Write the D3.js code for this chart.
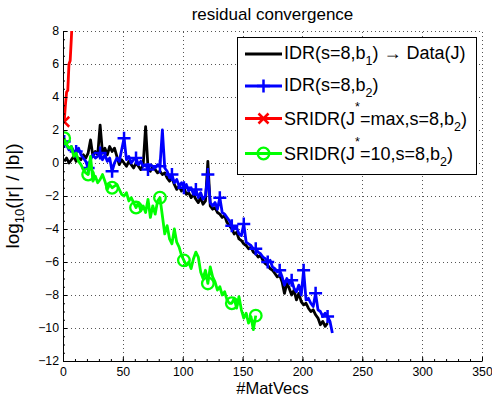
<!DOCTYPE html>
<html><head><meta charset="utf-8">
<script src="https://cdn.jsdelivr.net/npm/d3@7/dist/d3.min.js"></script>
<style>body{margin:0;background:#fff}svg{display:block;font-family:"Liberation Sans",Arial,Helvetica,sans-serif}</style>
</head><body>
<svg id="chart" width="492" height="397"></svg>
<script>
// ---- data ----
const xTickValues = [0, 50, 100, 150, 200, 250, 300, 350];
const yTickValues = [-12, -10, -8, -6, -4, -2, 0, 2, 4, 6, 8];

const seriesNames = ["IDR(s=8,b1) → Data(J)", "IDR(s=8,b2)", "SRIDR(J*=max,s=8,b2)", "SRIDR(J*=10,s=8,b2)"];

const blackX = [1,3,5,7,9,11,13,15,17,19,21,23,25,27,29,31,33,35,37,39,41,43,45,47,49,51,53,55,57,59,61,63,65,67,69,71,73,75,77,79,81,83,85,87,89,91,93,95,97,99,101,103,105,107,109,111,113,115,117,119,121,123,125,127,129,131,133,135,137,139,141,143,145,147,149,151,153,155,157,159,161,163,165,167,169,171,173,175,177,179,181,183,185,187,189,191,193,195,197,199,201,203,205,207,209,211,213,215,217,219,221];
const blackY = [0.1,0.3,0.0,0.2,0.4,0.1,0.3,0.2,0.5,0.3,
  0.6,1.4,0.4,0.7,0.5,2.3,0.6,0.9,0.5,1.0,
  0.7,0.9,0.4,-0.1,0.2,0.0,-0.2,0.1,-0.1,-0.3,
  0.0,-0.2,-0.4,-0.1,2.2,-0.3,-0.5,-0.2,-0.4,-0.6,
  -0.5,-0.7,-0.6,-0.9,-1.1,-0.9,-1.3,-1.6,-1.4,-1.7,
  -1.5,-1.9,-1.8,-2.1,-1.9,-2.2,-2.4,-2.1,-2.5,-2.3,
  0.1,-2.6,-2.8,-2.7,-3.0,-3.1,-3.3,-3.2,-3.6,-3.8,
  -4.0,-4.3,-4.2,-4.6,-4.7,-4.9,-5.0,-5.2,-5.1,-5.4,
  -5.5,-5.7,-5.6,-5.9,-6.1,-6.2,-6.4,-6.5,-6.7,-6.9,
  -6.8,-7.2,-7.9,-7.3,-7.6,-8.0,-7.7,-8.3,-7.9,-8.4,
  -8.6,-8.5,-8.8,-9.0,-8.9,-9.2,-9.4,-9.8,-9.6,-9.9,
  -9.7];

const blueX = [1,3,5,7,9,11,13,15,17,19,21,23,25,27,29,31,33,35,37,39,41,43,45,47,49,51,53,55,57,59,61,63,65,67,69,71,73,75,77,79,81,83,85,87,89,91,93,95,97,99,101,103,105,107,109,111,113,115,117,119,121,123,125,127,129,131,133,135,137,139,141,143,145,147,149,151,153,155,157,159,161,163,165,167,169,171,173,175,177,179,181,183,185,187,189,191,193,195,197,199,201,203,205,207,209,211,213,215,217,219,221,223,225];
const blueY = [1.3,1.1,0.8,1.0,0.7,0.7,0.9,0.5,0.3,0.1,
  -0.3,0.2,0.5,0.3,0.4,0.6,0.2,0.5,0.1,0.3,
  -0.5,0.0,0.3,0.1,0.8,1.5,0.2,0.4,0.0,0.2,
  0.3,-0.1,0.1,-0.2,-0.1,-0.4,-0.1,-0.2,-0.3,-0.1,
  -0.2,2.0,-0.3,-0.5,-0.9,-0.7,-1.2,-1.0,-1.4,-1.2,
  -1.5,-1.3,-1.7,-1.5,-1.9,-1.6,-2.1,-1.8,-2.2,-2.0,
  -0.7,-2.4,-2.6,-2.4,-2.8,-2.1,-3.0,-3.1,-3.3,-3.5,
  -3.8,-4.0,-3.9,-4.3,-4.4,-3.7,-4.8,-4.9,-5.0,-5.2,
  -5.2,-5.4,-5.5,-5.7,-5.8,-6.0,-5.9,-6.3,-6.4,-6.6,
  -6.5,-6.9,-7.4,-7.0,-7.3,-7.1,-7.6,-7.8,-7.4,-8.0,
  -6.5,-8.3,-8.2,-8.5,-8.7,-7.9,-8.9,-9.0,-9.3,-9.1,
  -9.3,-9.6,-10.3];

const redX = [1,2,3,4,5,6,7,8];
const redY = [2.5,3.5,4.3,4.4,6.0,6.2,7.6,9.2];

const greenX = [1,3,5,7,9,11,13,15,17,19,21,23,25,27,29,31,33,35,37,39,41,43,45,47,49,51,53,55,57,59,61,63,65,67,69,71,73,75,77,79,81,83,85,87,89,91,93,95,97,99,101,103,105,107,109,111,113,115,117,119,121,123,125,127,129,131,133,135,137,139,141,143,145,147,149,151,153,155,157,159,161];
const greenY = [1.5,1.1,0.9,1.0,0.4,0.6,0.1,-0.1,-0.4,-0.6,
  -0.7,0.4,-1.1,-0.8,-1.2,-1.0,-0.7,-1.1,-1.6,-1.3,
  -1.5,-1.4,-1.3,-1.6,-1.9,-2.0,-1.8,-2.3,-2.1,-2.4,
  -2.7,-2.4,-2.9,-2.6,-3.0,-2.2,-3.3,-2.6,-3.1,-2.3,
  -2.1,-3.2,-4.3,-3.8,-4.6,-4.9,-4.0,-4.8,-5.1,-5.6,
  -5.9,-6.2,-6.0,-6.4,-5.8,-5.4,-5.7,-6.6,-7.0,-6.5,
  -7.3,-6.3,-6.9,-7.2,-7.7,-7.5,-8.0,-7.8,-8.3,-8.5,
  -8.5,-8.2,-8.8,-8.1,-8.9,-9.4,-9.1,-9.7,-9.3,-10.1,
  -9.25];

// ---- layout / style ----
const svg = d3.select("#chart");
const x = d3.scaleLinear().domain([0, 350]).range([63, 482]);
const y = d3.scaleLinear().domain([-12, 8]).range([361, 31]);
const FONT = '"Liberation Sans",Arial,Helvetica,sans-serif';

const series = [
  {xs: blackX, ys: blackY, color: "#000000", marker: null, every: 0},
  {xs: blueX, ys: blueY, color: "#0000ff", marker: "plus", every: 5},
  {xs: redX, ys: redY, color: "#ff0000", marker: "cross", every: 10},
  {xs: greenX, ys: greenY, color: "#00ff00", marker: "circle", every: 10}
];

// grid
const grid = svg.append("g").attr("stroke", "#555").attr("stroke-width", 1).attr("stroke-dasharray", "1,3");
xTickValues.filter(v => v !== 0).forEach(v => {
  grid.append("line").attr("x1", Math.round(x(v)) + 0.5).attr("x2", Math.round(x(v)) + 0.5)
    .attr("y1", y(-12)).attr("y2", y(8));
});
yTickValues.filter(v => v !== -12).forEach(v => {
  grid.append("line").attr("y1", Math.round(y(v)) + 0.5).attr("y2", Math.round(y(v)) + 0.5)
    .attr("x1", x(0)).attr("x2", x(350));
});

// clip
svg.append("clipPath").attr("id", "clip").append("rect")
  .attr("x", x(0)).attr("y", y(8)).attr("width", x(350) - x(0)).attr("height", y(-12) - y(8));

function markerPath(type) {
  if (type === "plus") return "M-6.5,0H6.5M0,-6.5V6.5";
  if (type === "cross") return "M-5,-5L5,5M-5,5L5,-5";
  return null;
}
function drawMarker(g, type, cx, cy, color) {
  if (type === "circle") {
    g.append("circle").attr("cx", cx).attr("cy", cy).attr("r", 5.8)
      .attr("fill", "none").attr("stroke", color).attr("stroke-width", 2.3);
  } else {
    g.append("path").attr("d", markerPath(type)).attr("transform", `translate(${cx},${cy})`)
      .attr("fill", "none").attr("stroke", color).attr("stroke-width", 2.5);
  }
}

const line = d3.line().x(d => x(d[0])).y(d => y(d[1]));
const plot = svg.append("g").attr("clip-path", "url(#clip)");
series.forEach(s => {
  const pts = s.xs.map((v, i) => [v, s.ys[i]]);
  plot.append("path").datum(pts).attr("d", line).attr("fill", "none")
    .attr("stroke", s.color).attr("stroke-width", 2.8).attr("stroke-linejoin", "round");
  if (s.marker) {
    pts.forEach((p, i) => {
      if (i % s.every === 0) drawMarker(plot, s.marker, x(p[0]), y(p[1]), s.color);
    });
  }
});

// axes
const xAxis = d3.axisBottom(x).tickValues(xTickValues).tickSizeInner(-4).tickSizeOuter(0).tickPadding(6)
  .tickFormat(d => d3.format("d")(d));
svg.append("g").attr("transform", `translate(0,${y(-12)})`).call(xAxis);
const xMinor = d3.axisBottom(x).tickValues(d3.range(0, 351, 10)).tickSizeInner(-2).tickSizeOuter(0).tickFormat("");
svg.append("g").attr("transform", `translate(0,${y(-12)})`).call(xMinor).select(".domain").remove();

const yAxis = d3.axisLeft(y).tickValues(yTickValues).tickSizeInner(-4).tickSizeOuter(0).tickPadding(4)
  .tickFormat(d => (d < 0 ? "\u2212" + Math.abs(d) : "" + d));
svg.append("g").attr("transform", `translate(${x(0)},0)`).call(yAxis);
const yMinor = d3.axisLeft(y).tickValues(d3.range(-12, 8.01, 0.5)).tickSizeInner(-2).tickSizeOuter(0).tickFormat("");
svg.append("g").attr("transform", `translate(${x(0)},0)`).call(yMinor).select(".domain").remove();

svg.selectAll(".tick text").attr("font-family", FONT).attr("font-size", 12.3).attr("fill", "#000");
svg.selectAll(".tick line").attr("stroke", "#000");
svg.selectAll(".domain").attr("stroke", "#000").attr("stroke-width", 1);

// titles
svg.append("text").attr("x", (x(0) + x(350)) / 2).attr("y", 20).attr("text-anchor", "middle")
  .attr("font-family", FONT).attr("font-size", 17).text("residual convergence");
svg.append("text").attr("x", (x(0) + x(350)) / 2).attr("y", 393.5).attr("text-anchor", "middle")
  .attr("font-family", FONT).attr("font-size", 16.5).text("#MatVecs");
const yl = svg.append("text").attr("transform", `translate(19,${(y(8) + y(-12)) / 2}) rotate(-90)`)
  .attr("text-anchor", "middle").attr("font-family", FONT).attr("font-size", 19);
yl.append("tspan").text("log");
yl.append("tspan").attr("font-size", 13).attr("dy", 5).text("10");
yl.append("tspan").attr("dy", -5).text("(|r| / |b|)");

// legend
const lg = svg.append("g");
lg.append("rect").attr("x", 237.5).attr("y", 37.5).attr("width", 239).attr("height", 137)
  .attr("fill", "#fff").attr("stroke", "#000").attr("stroke-width", 1);
const rowLineY = [54, 86, 118.5, 153.5];
const rowTextY = [58.5, 91, 124.5, 159.5];
function labelParts(name) {
  const parts = [];
  const re = /(b)(\d)|(J)(\*)/g;
  let last = 0, m;
  while ((m = re.exec(name)) !== null) {
    if (m[1]) {
      parts.push({t: name.slice(last, m.index) + "b", k: "n"});
      parts.push({t: m[2], k: "sub"});
    } else {
      parts.push({t: name.slice(last, m.index) + "J", k: "n"});
      parts.push({t: "*", k: "sup"});
    }
    last = re.lastIndex;
  }
  parts.push({t: name.slice(last), k: "n"});
  return parts;
}
series.forEach((s, i) => {
  lg.append("line").attr("x1", 245).attr("x2", 282).attr("y1", rowLineY[i]).attr("y2", rowLineY[i])
    .attr("stroke", s.color).attr("stroke-width", 2.8);
  if (s.marker) drawMarker(lg, s.marker, 263.5, rowLineY[i], s.color);
  const t = lg.append("text").attr("x", 284).attr("y", rowTextY[i]).attr("font-family", FONT).attr("font-size", 18);
  let shift = 0;
  labelParts(seriesNames[i]).forEach(p => {
    const target = p.k === "sub" ? 6 : p.k === "sup" ? -14 : 0;
    const ts = t.append("tspan").attr("dy", target - shift).text(p.t);
    if (p.k !== "n") ts.attr("font-size", 12.5);
    shift = target;
  });
});
</script>
</body></html>
